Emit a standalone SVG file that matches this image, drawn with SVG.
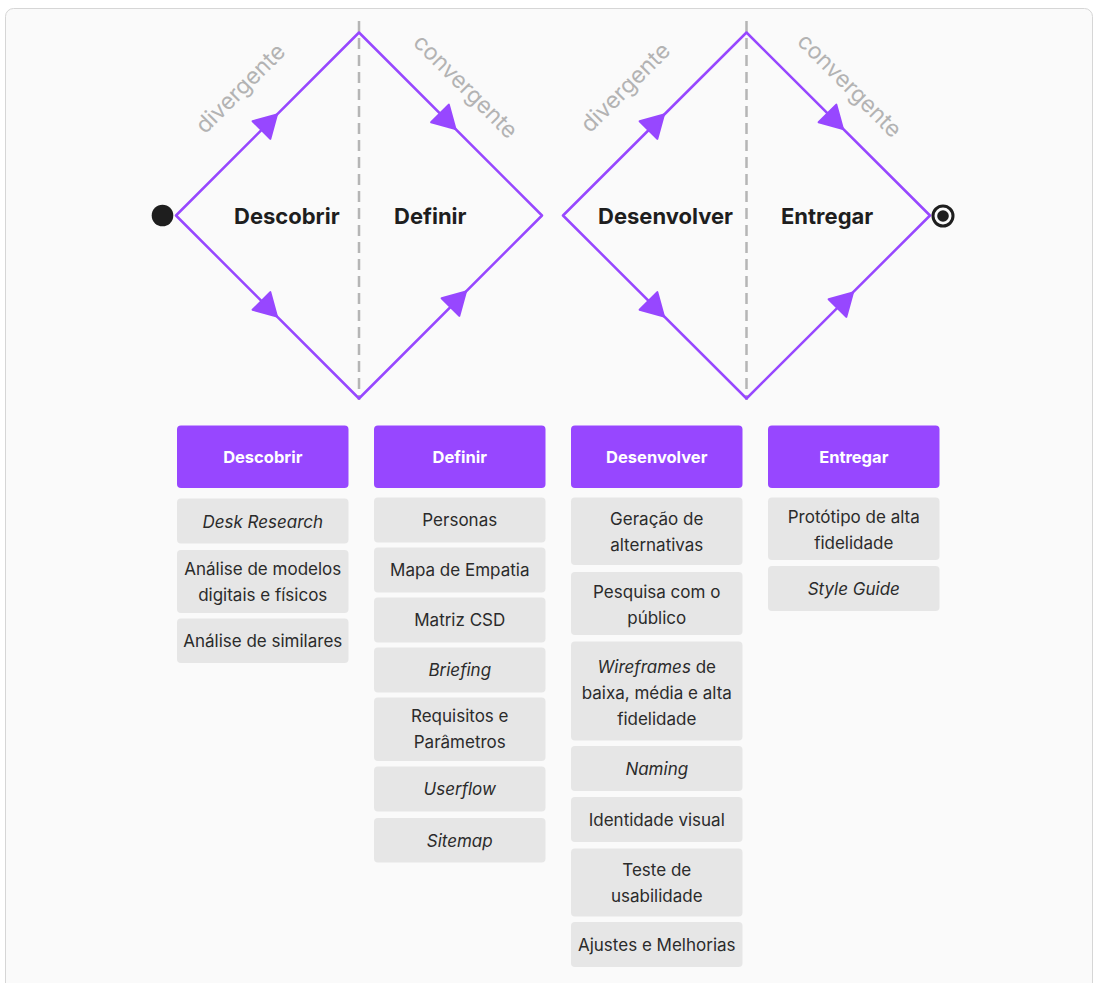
<svg xmlns="http://www.w3.org/2000/svg" width="1094" height="983" viewBox="0 0 1094 983">
  <style>
    .edge { fill: none; stroke: #9747FF; stroke-width: 2.5; stroke-linejoin: round; stroke-linecap: round; }
    .axis { stroke: #b5b5b5; stroke-width: 2.5; stroke-dasharray: 11 6; }
    .phase { font-family: Inter, "Liberation Sans", sans-serif; font-size: 22px; font-weight: 700; fill: #1e1e1e; }
    .flow { font-family: Inter, "Liberation Sans", sans-serif; font-size: 23px; fill: #b3b3b3; text-anchor: middle; }
    .head rect { fill: #9747FF; }
    .head text { font-family: Inter, "Liberation Sans", sans-serif; font-size: 16.5px; font-weight: 700; fill: #ffffff; text-anchor: middle; }
    .item rect { fill: #e6e6e6; }
    .item text { font-family: Inter, "Liberation Sans", sans-serif; font-size: 17px; fill: #2b2b2b; text-anchor: middle; }
    .it { font-style: italic; }
  </style>
  <defs>
    <!-- arrowhead pointing along +x, tip at origin -->
    <path id="arrow" d="M0,0 L-22,-12.5 L-22,12.5 Z" fill="#9747FF" stroke="#9747FF" stroke-width="2" stroke-linejoin="round"/>
  </defs>

  <rect x="0" y="0" width="1094" height="983" fill="#ffffff"/>
  <rect x="5.5" y="8.5" width="1087" height="990" rx="8" fill="#fafafa" stroke="#d6d6d6" stroke-width="1"/>

  <!-- phase dividers -->
  <g id="dividers">
    <line class="axis" x1="359" y1="21" x2="359" y2="400"/>
    <line class="axis" x1="746.5" y1="21" x2="746.5" y2="400"/>
  </g>

  <!-- double diamond connectors -->
  <g id="connectors">
    <path class="edge" d="M176,215.5 L359,32.5 L542,215.5 L359,398.5 Z"/>
    <path class="edge" d="M563,215.5 L746.5,32.5 L930,215.5 L746.5,398.5 Z"/>
    <use href="#arrow" transform="translate(277,114.5) rotate(-45)"/>
    <use href="#arrow" transform="translate(455.5,129) rotate(45)"/>
    <use href="#arrow" transform="translate(277,316.5) rotate(45)"/>
    <use href="#arrow" transform="translate(466,291.5) rotate(-45)"/>
    <use href="#arrow" transform="translate(664,114.5) rotate(-45)"/>
    <use href="#arrow" transform="translate(843,129) rotate(45)"/>
    <use href="#arrow" transform="translate(664,316.5) rotate(45)"/>
    <use href="#arrow" transform="translate(853,292.5) rotate(-45)"/>
  </g>

  <g id="start">
    <circle cx="162.5" cy="215.5" r="10.8" fill="#1e1e1e"/>
  </g>
  <g id="end">
    <circle cx="943" cy="216" r="10" fill="none" stroke="#1e1e1e" stroke-width="3"/>
    <circle cx="943" cy="216" r="5.8" fill="#1e1e1e"/>
  </g>

  <g id="flow-labels">
    <text class="flow" transform="translate(241,89) rotate(-45)" y="7">divergente</text>
    <text class="flow" transform="translate(465,87) rotate(45)" y="7">convergente</text>
    <text class="flow" transform="translate(626,88) rotate(-45)" y="7">divergente</text>
    <text class="flow" transform="translate(849,86) rotate(45)" y="7">convergente</text>
  </g>

  <g id="phase-labels">
    <text class="phase" x="234" y="224">Descobrir</text>
    <text class="phase" x="394" y="224">Definir</text>
    <text class="phase" x="598" y="224">Desenvolver</text>
    <text class="phase" x="781" y="224">Entregar</text>
  </g>

  <!-- Descobrir column -->
  <g id="col-descobrir">
    <g id="h-descobrir" class="head"><rect x="177" y="425.5" width="171.5" height="62.5" rx="4"/><text x="262.75" y="463">Descobrir</text></g>
    <g id="i-desk" class="item"><rect x="177" y="498.5" width="171.5" height="45" rx="4"/><text x="262.75" y="527.5" class="it">Desk Research</text></g>
    <g id="i-analise-modelos" class="item"><rect x="177" y="550" width="171.5" height="63" rx="4"/><text x="262.75" y="575">Análise de modelos</text><text x="262.75" y="601">digitais e físicos</text></g>
    <g id="i-similares" class="item"><rect x="177" y="618.5" width="171.5" height="44.5" rx="4"/><text x="262.75" y="646.5">Análise de similares</text></g>
  </g>

  <!-- Definir column -->
  <g id="col-definir">
    <g id="h-definir" class="head"><rect x="374" y="425.5" width="171.5" height="62.5" rx="4"/><text x="459.75" y="463">Definir</text></g>
    <g id="i-personas" class="item"><rect x="374" y="497.5" width="171.5" height="45" rx="4"/><text x="459.75" y="526">Personas</text></g>
    <g id="i-mapa" class="item"><rect x="374" y="547.5" width="171.5" height="45" rx="4"/><text x="459.75" y="576">Mapa de Empatia</text></g>
    <g id="i-matriz" class="item"><rect x="374" y="597.5" width="171.5" height="45" rx="4"/><text x="459.75" y="626">Matriz CSD</text></g>
    <g id="i-briefing" class="item"><rect x="374" y="647.5" width="171.5" height="45" rx="4"/><text x="459.75" y="676" class="it">Briefing</text></g>
    <g id="i-requisitos" class="item"><rect x="374" y="697.5" width="171.5" height="63.5" rx="4"/><text x="459.75" y="722">Requisitos e</text><text x="459.75" y="748">Parâmetros</text></g>
    <g id="i-userflow" class="item"><rect x="374" y="766.5" width="171.5" height="45" rx="4"/><text x="459.75" y="795" class="it">Userflow</text></g>
    <g id="i-sitemap" class="item"><rect x="374" y="818" width="171.5" height="44.5" rx="4"/><text x="459.75" y="846.5" class="it">Sitemap</text></g>
  </g>

  <!-- Desenvolver column -->
  <g id="col-desenvolver">
    <g id="h-desenvolver" class="head"><rect x="571" y="425.5" width="171.5" height="62.5" rx="4"/><text x="656.75" y="463">Desenvolver</text></g>
    <g id="i-geracao" class="item"><rect x="571" y="497.5" width="171.5" height="67.5" rx="4"/><text x="656.75" y="525">Geração de</text><text x="656.75" y="551">alternativas</text></g>
    <g id="i-pesquisa" class="item"><rect x="571" y="572" width="171.5" height="63" rx="4"/><text x="656.75" y="597.5">Pesquisa com o</text><text x="656.75" y="623.5">público</text></g>
    <g id="i-wireframes" class="item"><rect x="571" y="641.5" width="171.5" height="99" rx="4"/><text x="656.75" y="672.5"><tspan class="it">Wireframes</tspan> de</text><text x="656.75" y="698.5">baixa, média e alta</text><text x="656.75" y="724.5">fidelidade</text></g>
    <g id="i-naming" class="item"><rect x="571" y="746" width="171.5" height="45" rx="4"/><text x="656.75" y="774.5" class="it">Naming</text></g>
    <g id="i-identidade" class="item"><rect x="571" y="797" width="171.5" height="45" rx="4"/><text x="656.75" y="825.5">Identidade visual</text></g>
    <g id="i-teste" class="item"><rect x="571" y="848.5" width="171.5" height="68" rx="4"/><text x="656.75" y="876">Teste de</text><text x="656.75" y="902">usabilidade</text></g>
    <g id="i-ajustes" class="item"><rect x="571" y="922" width="171.5" height="45" rx="4"/><text x="656.75" y="950.5">Ajustes e Melhorias</text></g>
  </g>

  <!-- Entregar column -->
  <g id="col-entregar">
    <g id="h-entregar" class="head"><rect x="768" y="425.5" width="171.5" height="62.5" rx="4"/><text x="853.75" y="463">Entregar</text></g>
    <g id="i-prototipo" class="item"><rect x="768" y="497.5" width="171.5" height="62.5" rx="4"/><text x="853.75" y="522.5">Protótipo de alta</text><text x="853.75" y="548.5">fidelidade</text></g>
    <g id="i-style" class="item"><rect x="768" y="566" width="171.5" height="45" rx="4"/><text x="853.75" y="594.5" class="it">Style Guide</text></g>
  </g>
</svg>
